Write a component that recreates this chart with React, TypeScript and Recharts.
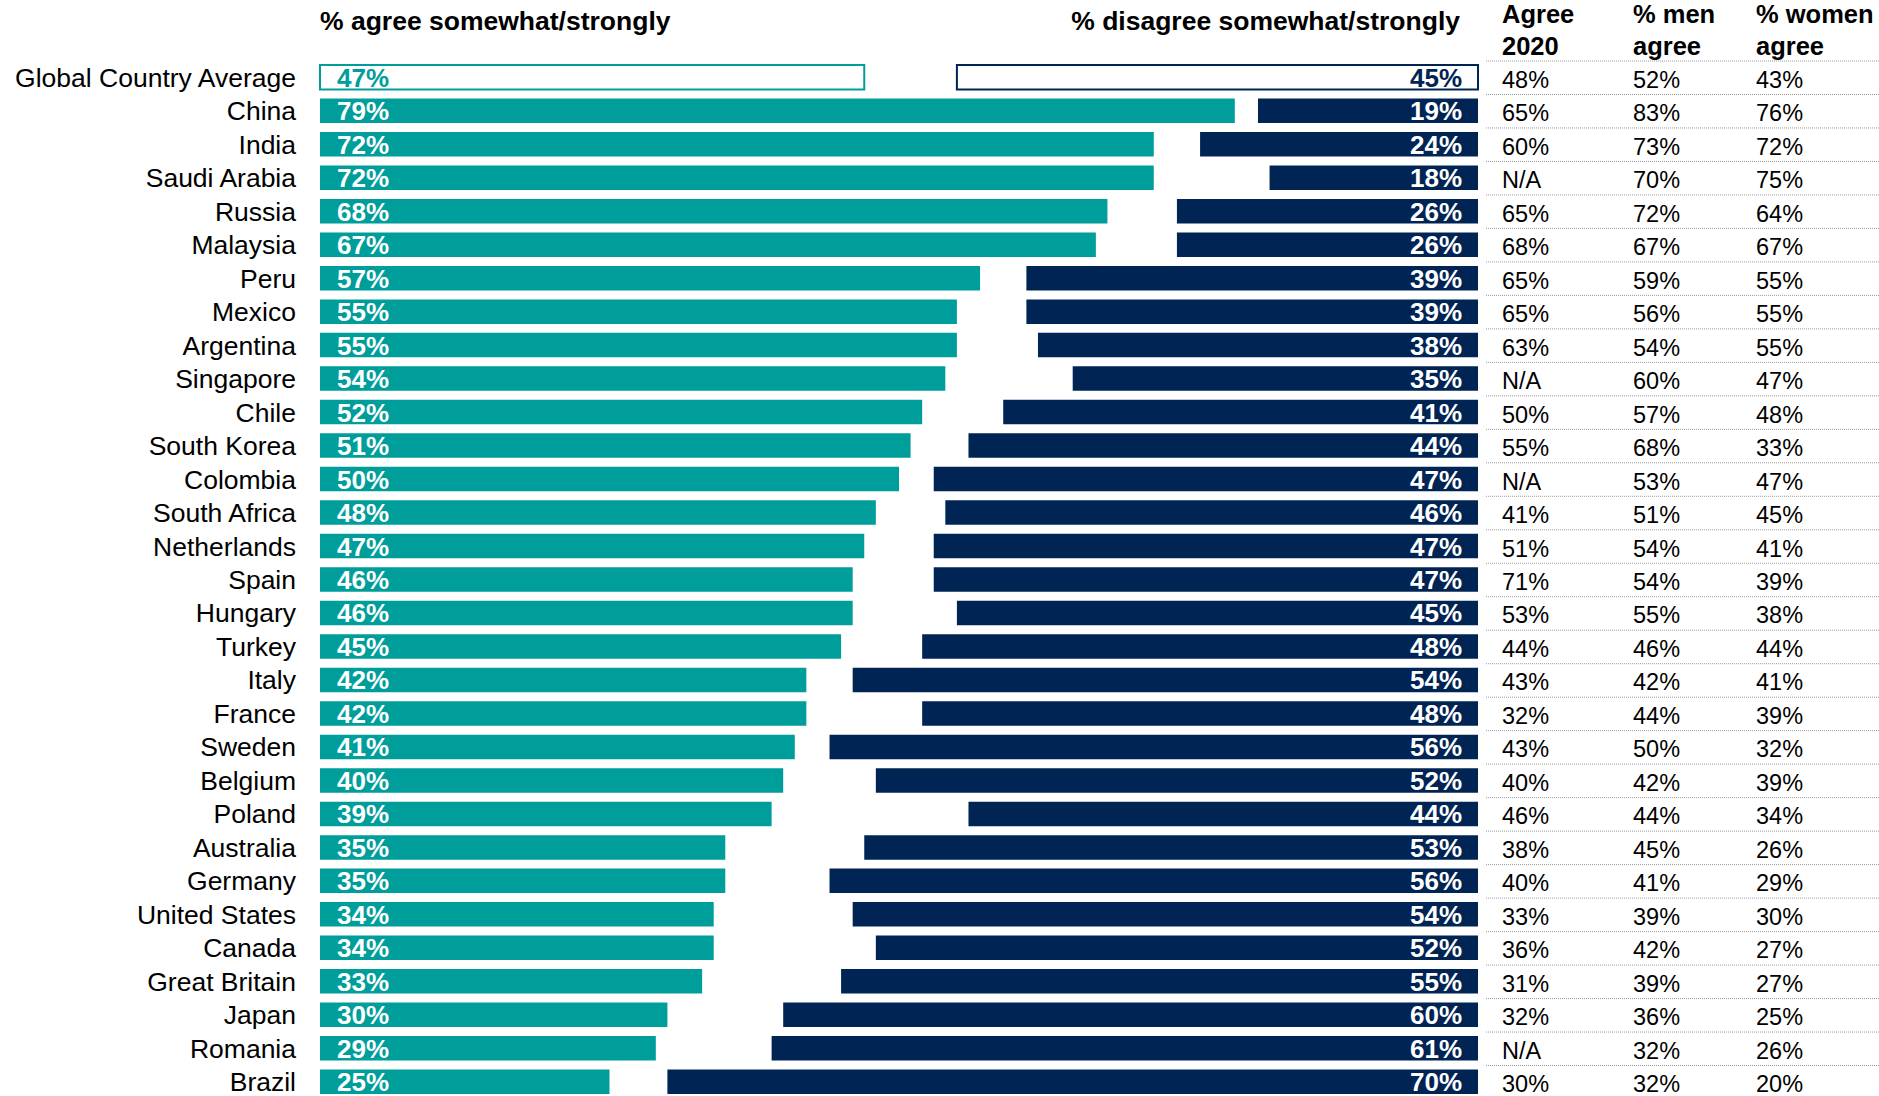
import React from 'react';
import { BarChart, Bar, XAxis, YAxis, Cell, LabelList } from 'recharts';

const countries = [
  'Global Country Average', 'China', 'India', 'Saudi Arabia', 'Russia', 'Malaysia', 'Peru', 'Mexico',
  'Argentina', 'Singapore', 'Chile', 'South Korea', 'Colombia', 'South Africa', 'Netherlands', 'Spain',
  'Hungary', 'Turkey', 'Italy', 'France', 'Sweden', 'Belgium', 'Poland', 'Australia', 'Germany',
  'United States', 'Canada', 'Great Britain', 'Japan', 'Romania', 'Brazil',
];
const agree = [47, 79, 72, 72, 68, 67, 57, 55, 55, 54, 52, 51, 50, 48, 47, 46, 46, 45, 42, 42, 41, 40, 39, 35, 35, 34, 34, 33, 30, 29, 25];
const disagree = [45, 19, 24, 18, 26, 26, 39, 39, 38, 35, 41, 44, 47, 46, 47, 47, 45, 48, 54, 48, 56, 52, 44, 53, 56, 54, 52, 55, 60, 61, 70];
const agree2020 = ['48%', '65%', '60%', 'N/A', '65%', '68%', '65%', '65%', '63%', 'N/A', '50%', '55%', 'N/A', '41%', '51%', '71%', '53%', '44%', '43%', '32%', '43%', '40%', '46%', '38%', '40%', '33%', '36%', '31%', '32%', 'N/A', '30%'];
const menAgree = [52, 83, 73, 70, 72, 67, 59, 56, 54, 60, 57, 68, 53, 51, 54, 54, 55, 46, 42, 44, 50, 42, 44, 45, 41, 39, 42, 39, 36, 32, 32];
const womenAgree = [43, 76, 72, 75, 64, 67, 55, 55, 55, 47, 48, 33, 47, 45, 41, 39, 38, 44, 41, 39, 32, 39, 34, 26, 29, 30, 27, 27, 25, 26, 20];

const TEAL = '#009e9b';
const NAVY = '#002453';
const FONT = '"Liberation Sans", Arial, sans-serif';

// rows for the stacked bar: agree from the left, disagree pushed to the right end
const data = countries.map((name, i) => ({
  name,
  agree: agree[i],
  rest: 100 - agree[i] - disagree[i],
  disagree: disagree[i],
}));

// table columns to the right of the bars
const TABLE_X = [1502, 1633, 1756];
const ROW_H = 1038 / countries.length;

const CountryTick = (props: any) => {
  const { x, y, payload } = props;
  const i = payload.index;
  return (
    <g>
      <text x={x} y={y + 9} textAnchor="end" fontFamily={FONT} fontSize={26.5} fill="#000">
        {payload.value}
      </text>
      <line x1={1486} x2={1879} y1={y - ROW_H / 2} y2={y - ROW_H / 2} stroke="#9a9a9a" strokeDasharray="1 1" />
      <text x={TABLE_X[0]} y={y + 10} fontFamily={FONT} fontSize={23.5} fill="#000">{agree2020[i]}</text>
      <text x={TABLE_X[1]} y={y + 10} fontFamily={FONT} fontSize={23.5} fill="#000">{menAgree[i]}%</text>
      <text x={TABLE_X[2]} y={y + 10} fontFamily={FONT} fontSize={23.5} fill="#000">{womenAgree[i]}%</text>
    </g>
  );
};

const AgreeLabel = (props: any) => {
  const { x, y, height, value, index } = props;
  return (
    <text x={x + 17} y={y + height / 2 + 9.5} fontFamily={FONT} fontSize={26} fontWeight="bold"
      fill={index === 0 ? TEAL : '#fff'}>
      {value}%
    </text>
  );
};

const DisagreeLabel = (props: any) => {
  const { x, y, width, height, value, index } = props;
  return (
    <text x={x + width - 16} y={y + height / 2 + 9.5} textAnchor="end" fontFamily={FONT} fontSize={26}
      fontWeight="bold" fill={index === 0 ? NAVY : '#fff'}>
      {value}%
    </text>
  );
};

export default function App() {
  return (
    <div style={{ position: 'absolute', left: 0, top: 0, width: 1879, height: 1096, overflow: 'hidden', background: '#fff' }}>
      <BarChart
        width={1879}
        height={1100}
        data={data}
        layout="vertical"
        barSize={24.5}
        margin={{ top: 61, right: 401, bottom: 1, left: 0 }}
      >
        <XAxis type="number" domain={[0, 100]} hide />
        <YAxis
          type="category"
          dataKey="name"
          width={320}
          axisLine={false}
          tickLine={false}
          tickSize={0}
          tickMargin={24}
          interval={0}
          tick={<CountryTick />}
        />
        <Bar dataKey="agree" stackId="a" fill={TEAL} isAnimationActive={false}>
          {data.map((_, i) => (
            <Cell key={i} fill={i === 0 ? '#fff' : TEAL} stroke={i === 0 ? TEAL : 'none'} strokeWidth={2} />
          ))}
          <LabelList dataKey="agree" content={<AgreeLabel />} />
        </Bar>
        <Bar dataKey="rest" stackId="a" fill="transparent" isAnimationActive={false} />
        <Bar dataKey="disagree" stackId="a" fill={NAVY} isAnimationActive={false}>
          {data.map((_, i) => (
            <Cell key={i} fill={i === 0 ? '#fff' : NAVY} stroke={i === 0 ? NAVY : 'none'} strokeWidth={2} />
          ))}
          <LabelList dataKey="disagree" content={<DisagreeLabel />} />
        </Bar>
      </BarChart>

      {/* column headers */}
      <svg width={1879} height={60} style={{ position: 'absolute', left: 0, top: 0 }}>
        <text x={320} y={30} fontFamily={FONT} fontSize={26.5} fontWeight="bold" fill="#000">% agree somewhat/strongly</text>
        <text x={1460} y={30} textAnchor="end" fontFamily={FONT} fontSize={26.5} fontWeight="bold" fill="#000">% disagree somewhat/strongly</text>
        <text x={TABLE_X[0]} y={23} fontFamily={FONT} fontSize={25.5} fontWeight="bold" fill="#000">Agree</text>
        <text x={TABLE_X[0]} y={55} fontFamily={FONT} fontSize={25.5} fontWeight="bold" fill="#000">2020</text>
        <text x={TABLE_X[1]} y={23} fontFamily={FONT} fontSize={25.5} fontWeight="bold" fill="#000">% men</text>
        <text x={TABLE_X[1]} y={55} fontFamily={FONT} fontSize={25.5} fontWeight="bold" fill="#000">agree</text>
        <text x={TABLE_X[2]} y={23} fontFamily={FONT} fontSize={25.5} fontWeight="bold" fill="#000">% women</text>
        <text x={TABLE_X[2]} y={55} fontFamily={FONT} fontSize={25.5} fontWeight="bold" fill="#000">agree</text>
      </svg>
    </div>
  );
}
